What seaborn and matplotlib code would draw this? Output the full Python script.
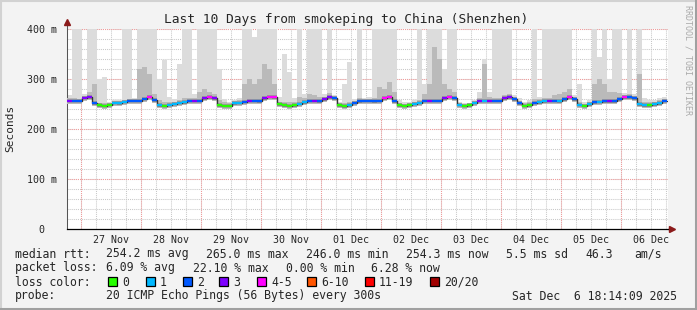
import numpy as np
import pandas as pd
import matplotlib
matplotlib.use("Agg")
import matplotlib.pyplot as plt
import seaborn as sns
from matplotlib.patches import Rectangle
from matplotlib.lines import Line2D

# ---------------- data (2-hour bins, 10 days) ----------------
median_ms = [257, 257, 257, 263, 264, 252, 248, 247, 249, 253, 252, 255, 257, 257, 257, 261, 265, 258, 248, 247, 249, 251, 253, 254, 257, 257, 257, 262, 264, 262,
             248, 247, 247, 252, 253, 255, 257, 257, 256, 262, 265, 264, 250, 248, 247, 248, 251, 254, 257, 257, 256, 260, 264, 262, 248, 246, 248, 253, 256, 257,
             257, 256, 257, 262, 264, 256, 248, 247, 248, 251, 253, 257, 257, 257, 257, 262, 265, 262, 249, 247, 248, 253, 257, 257, 257, 257, 257, 262, 264, 260,
             252, 247, 248, 253, 254, 256, 257, 257, 256, 260, 264, 260, 249, 247, 250, 254, 255, 256, 256, 256, 260, 264, 264, 262, 250, 248, 248, 250, 252, 257]
loss_class = [3, 2, 2, 3, 3, 2, 0, 0, 0, 1, 1, 1, 2, 2, 2, 2, 4, 2, 1, 0, 1, 1, 1, 1, 2, 3, 2, 3, 4, 3,
              0, 0, 0, 1, 1, 2, 3, 2, 2, 3, 4, 4, 0, 0, 0, 0, 1, 1, 2, 3, 2, 3, 3, 2, 0, 0, 1, 2, 2, 2,
              2, 2, 2, 4, 4, 2, 0, 0, 0, 1, 1, 2, 3, 2, 2, 3, 4, 2, 1, 0, 0, 1, 3, 1, 3, 2, 2, 3, 3, 2,
              2, 0, 0, 2, 1, 1, 3, 2, 1, 2, 4, 2, 1, 0, 1, 2, 1, 2, 3, 2, 2, 4, 2, 2, 1, 1, 0, 1, 1, 2]
smoke_max_ms = [268, 420, 420, 270, 420, 420, 300, 305, 255, 258, 258, 420, 420, 262, 420, 420, 420, 420, 300, 338, 265, 260, 330, 420, 420, 270, 420, 420, 420, 420,
                320, 260, 255, 258, 262, 420, 420, 385, 420, 420, 420, 420, 265, 350, 315, 262, 420, 270, 420, 420, 420, 270, 420, 268, 255, 290, 335, 260, 420, 262,
                265, 420, 420, 420, 420, 420, 258, 255, 255, 258, 420, 290, 420, 420, 420, 320, 420, 420, 255, 252, 252, 258, 275, 340, 275, 420, 420, 420, 420, 268,
                262, 255, 258, 420, 265, 420, 420, 420, 420, 420, 420, 268, 290, 255, 258, 420, 345, 420, 300, 420, 420, 272, 420, 270, 420, 262, 258, 258, 262, 265]
smoke_mid_ms = [262, 262, 260, 266, 275, 290, 252, 252, 250, 255, 255, 258, 260, 260, 320, 325, 310, 270, 258, 255, 255, 255, 258, 262, 262, 262, 275, 280, 275, 270,
                258, 254, 252, 255, 258, 290, 300, 290, 300, 330, 320, 290, 255, 255, 255, 255, 265, 262, 270, 268, 265, 265, 272, 266, 252, 252, 255, 256, 262, 260,
                258, 262, 285, 280, 295, 275, 252, 250, 250, 254, 258, 270, 290, 365, 340, 290, 280, 275, 252, 250, 250, 256, 262, 330, 265, 262, 262, 268, 270, 264,
                256, 252, 255, 260, 260, 262, 262, 268, 270, 275, 280, 262, 255, 250, 254, 290, 300, 290, 275, 275, 272, 268, 270, 265, 310, 255, 254, 255, 258, 260]

loss_labels = ["0", "1", "2", "3", "4-5", "6-10", "11-19", "20/20"]
loss_colors = ["#26ff00", "#00b8ff", "#0059ff", "#7e00ff", "#ff00ff", "#ff5500", "#ff0000", "#a10000"]
day_labels = ["27 Nov", "28 Nov", "29 Nov", "30 Nov", "01 Dec", "02 Dec", "03 Dec", "04 Dec", "05 Dec", "06 Dec"]
y_ticks_ms = [0, 100, 200, 300, 400]
y_tick_labels = ["0  ", "100 m", "200 m", "300 m", "400 m"]

title = "Last 10 Days from smokeping to China (Shenzhen)"
legend_rtt = [("median rtt:", 16), ("254.2 ms avg", 107), ("265.0 ms max", 207), ("246.0 ms min", 307),
              ("254.3 ms now", 407), ("5.5 ms sd", 507), ("46.3", 586), ("am/s", 635)]
legend_loss = [("packet loss:", 16), ("6.09 % avg", 107), ("22.10 % max", 194), ("0.00 % min", 287), ("6.28 % now", 372)]
probe_text = "20 ICMP Echo Pings (56 Bytes) every 300s"
date_text = "Sat Dec  6 18:14:09 2025"

# ---------------- figure ----------------
W, H = 697, 310
sns.set_style("white")
plt.rcParams["font.family"] = ["DejaVu Sans Mono"]
fig = plt.figure(figsize=(W / 100, H / 100), dpi=100, facecolor="#f3f3f3")
ax = fig.add_axes([67 / W, 1 - 229 / H, 601 / W, 200 / H])
ax.set_facecolor("white")

BIN_H = 2.0
n = len(median_ms)
df = pd.DataFrame({
    "t": np.arange(n) * BIN_H,
    "median": median_ms,
    "loss": loss_class,
    "smax": smoke_max_ms,
    "smid": smoke_mid_ms,
})
df["lo"] = df["median"] - 6

# smoke
ax.bar(df["t"], df["smax"] - df["lo"], bottom=df["lo"], width=BIN_H, align="edge",
       color="#dcdcdc", linewidth=0, zorder=2)
ax.bar(df["t"], df["smid"] - df["lo"], bottom=df["lo"], width=BIN_H, align="edge",
       color="#bababa", linewidth=0, zorder=3)
ax.bar(df["t"], 7, bottom=df["median"] - 3, width=BIN_H, align="edge",
       color="#9a9a9a", linewidth=0, zorder=3.5)

# median: dark step line + loss coloured segments
step_df = pd.DataFrame({"t": list(df["t"]) + [n * BIN_H], "m": list(df["median"]) + [median_ms[-1]]})
sns.lineplot(data=step_df, x="t", y="m", drawstyle="steps-post", color="#333333", lw=1.0, ax=ax, zorder=4)
ax.hlines(df["median"], df["t"], df["t"] + BIN_H, colors=[loss_colors[k] for k in df["loss"]],
          lw=1.6, zorder=5)

# axes / grid
x_end = 601 / 2.5
ax.set_xlim(0, x_end)
ax.set_ylim(0, 400)
midnights = np.arange(5.6, x_end, 24)
six_hours = np.arange(-0.4, x_end, 6)
for x in six_hours:
    if 0 < x < x_end:
        ax.axvline(x, color="#c8c8c8", lw=0.75, ls=(0, (1, 1)), zorder=1)
for y in range(20, 401, 20):
    ax.axhline(y, color="#c8c8c8", lw=0.75, ls=(0, (1, 1)), zorder=1)
for x in midnights:
    ax.axvline(x, color="#f29a9a", lw=0.75, ls=(0, (1, 1)), zorder=1.5)
for y in [100, 200, 300, 400]:
    ax.axhline(y, color="#f29a9a", lw=0.75, ls=(0, (1, 1)), zorder=1.5)

ax.set_yticks(y_ticks_ms)
ax.set_yticklabels(y_tick_labels)
ax.set_yticks(range(20, 400, 20), minor=True)
ax.set_xticks(midnights)
ax.set_xticklabels([""] * len(midnights))
ax.set_xticks(midnights + 12, minor=True)
ax.set_xticklabels(day_labels, minor=True)
ax.tick_params(axis="y", which="major", length=4, width=0.75, color="#555555", pad=3, labelsize=7.2)
ax.tick_params(axis="y", which="minor", length=2, width=0.75, color="#555555")
ax.tick_params(axis="x", which="both", length=0, pad=4, labelsize=7.2)
ax.set_xlabel("")
ax.set_ylabel("")
for s in ["top", "right"]:
    ax.spines[s].set_visible(False)
ax.spines["left"].set_color("#555555")
ax.spines["left"].set_linewidth(0.75)
ax.spines["bottom"].set_color("black")
ax.spines["bottom"].set_linewidth(0.9)

# axis arrows
ax.add_line(Line2D([0, 0], [1, 1.035], transform=ax.transAxes, color="#555555", lw=0.75, clip_on=False))
ax.add_line(Line2D([1, 1.006], [0, 0], transform=ax.transAxes, color="black", lw=0.9, clip_on=False))
ax.plot([0], [1.035], marker="^", ms=4.5, color="#8b1a1a", transform=ax.transAxes, clip_on=False, zorder=10)
ax.plot([1.006], [0], marker=">", ms=4.5, color="#8b1a1a", transform=ax.transAxes, clip_on=False, zorder=10)


def ftext(x, y, s, **kw):
    kw.setdefault("va", "center")
    kw.setdefault("ha", "left")
    kw.setdefault("fontsize", 8.3)
    fig.text(x / W, 1 - y / H, s, **kw)


ftext(346.5, 19, title, ha="center", fontsize=9.3)
ftext(10, 128, "Seconds", ha="center", rotation=90, fontsize=8)
ftext(688, 60, "RRDTOOL / TOBI OETIKER", ha="center", rotation=270, fontsize=6, color="#aaaaaa")

for s, x in legend_rtt:
    ftext(x - 1, 254, s)
for s, x in legend_loss:
    ftext(x - 1, 268, s)
ftext(15, 282, "loss color:")
box_x = [108, 146, 183, 219, 257, 307, 365, 430]
for k, (lab, c) in enumerate(zip(loss_labels, loss_colors)):
    fig.patches.append(Rectangle((box_x[k] / W, 1 - 285.5 / H), 8.5 / W, 8.5 / H, transform=fig.transFigure,
                                 facecolor=c, edgecolor="black", lw=0.9, figure=fig))
    ftext(box_x[k] + 14, 282, lab)
ftext(15, 296, "probe:")
ftext(106, 296, probe_text)
ftext(512, 296, date_text)

# frame bevel
fig.add_artist(Line2D([0, 1], [1 - 0.5 / H, 1 - 0.5 / H], transform=fig.transFigure, color="#d2d2d2", lw=1.5))
fig.add_artist(Line2D([0.5 / W, 0.5 / W], [0, 1], transform=fig.transFigure, color="#d2d2d2", lw=1.5))
fig.add_artist(Line2D([0, 1], [1.5 / H, 1.5 / H], transform=fig.transFigure, color="#a0a0a0", lw=2.2))
fig.add_artist(Line2D([1 - 1.5 / W, 1 - 1.5 / W], [0, 1], transform=fig.transFigure, color="#a0a0a0", lw=2.2))

fig.savefig("out.png", dpi=100, facecolor=fig.get_facecolor())
